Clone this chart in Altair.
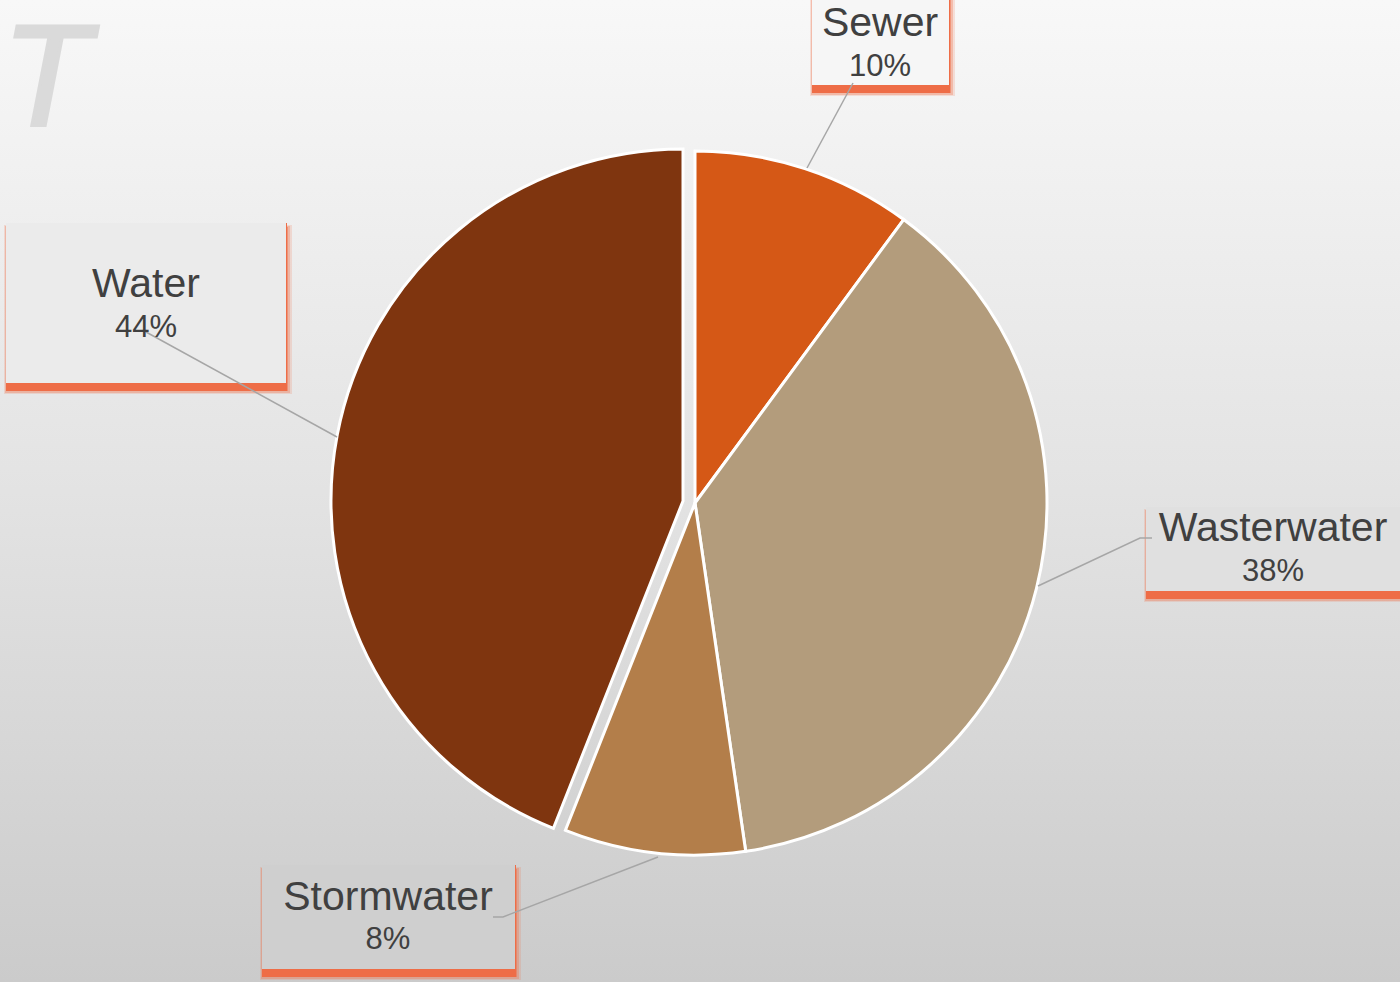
import altair as alt
import pandas as pd

# ---- data ----
categories = ["Sewer", "Wasterwater", "Stormwater", "Water"]
shares = [10.1, 37.6, 8.3, 44.0]
slice_colors = ["#D55816", "#B39C7C", "#B37E4A", "#7F350F"]

# ---- layout (pixels) ----
W, H = 1400, 982
CX, CY, R = 695, 503, 352
EXPLODE_CX, EXPLODE_CY = 683, 501  # exploded "Water" slice centre

box_x0 = [812, 1146, 262, 6]
box_x1 = [949, 1405, 515, 286]
box_y0 = [-10, 507, 865, 223]
box_y1 = [85, 591, 969, 383]
box_fill = ["#f6f6f6", "#e0e0e0", "#cfcfcf", "#ebebeb"]
text_cx = [880, 1273, 388, 146]
name_y = [36, 541, 910, 297]
pct_y = [76, 581, 949, 337]

leader_pts = {
    "Sewer": [(853, 83), (807, 168)],
    "Wasterwater": [(1038, 586), (1140, 538), (1152, 538)],
    "Stormwater": [(658, 857), (503, 917), (493, 917)],
    "Water": [(146, 332), (337, 437)],
}

pie_df = pd.DataFrame({"category": categories, "share": shares,
                       "order": list(range(len(categories)))})
lab_df = pd.DataFrame({"category": categories, "share": shares,
                       "x0": box_x0, "x1": box_x1, "y0": box_y0, "y1": box_y1,
                       "fill": box_fill,
                       "cx": text_cx, "ny": name_y, "py": pct_y})
rows = []
for k, pts in leader_pts.items():
    for i, (x, y) in enumerate(pts):
        rows.append({"category": k, "seq": i, "x": x, "y": y})
line_df = pd.DataFrame(rows)
one = pd.DataFrame({"a": [0]})

bg = alt.Chart(one).mark_rect(
    color=alt.LinearGradient(
        gradient="linear",
        stops=[alt.GradientStop(color="#f8f8f8", offset=0),
               alt.GradientStop(color="#e3e3e3", offset=0.5),
               alt.GradientStop(color="#cbcbcb", offset=1)],
        x1=0, x2=0, y1=0, y2=1)
).encode(x=alt.value(0), x2=alt.value(W), y=alt.value(0), y2=alt.value(H))

big_t = alt.Chart(one).mark_text(
    text="T", font="Liberation Sans", fontSize=144, fontStyle="italic",
    color="#dadada", stroke="#dadada", strokeWidth=3,
    align="left", baseline="alphabetic"
).encode(x=alt.value(2), y=alt.value(126))

arcs = alt.Chart(pie_df).mark_arc(
    radius=R, stroke="white", strokeWidth=3
).transform_calculate(
    px=f"datum.category == 'Water' ? {EXPLODE_CX} : {CX}",
    py=f"datum.category == 'Water' ? {EXPLODE_CY} : {CY}",
).encode(
    theta=alt.Theta("share:Q", stack=True),
    order=alt.Order("order:Q"),
    color=alt.Color("category:N", legend=None,
                    scale=alt.Scale(domain=categories, range=slice_colors)),
    x=alt.X("px:Q", scale=None),
    y=alt.Y("py:Q", scale=None),
)


def shadow(dx0, dy0, dx1, dy1, opacity):
    return alt.Chart(lab_df).mark_rect(color="#ee6d47", opacity=opacity).transform_calculate(
        sx0=f"datum.x0 + ({dx0})", sx1=f"datum.x1 + ({dx1})",
        sy0=f"datum.y0 + ({dy0})", sy1=f"datum.y1 + ({dy1})",
    ).encode(x=alt.X("sx0:Q", scale=None), x2="sx1:Q",
             y=alt.Y("sy0:Q", scale=None), y2="sy1:Q")


shadow_outer = shadow(-2, 2, 6, 11, 0.18)
shadow_mid = shadow(-1, 3, 4, 10, 0.3)
shadow_core = shadow(0, 4, 2, 8, 0.5)
bar = shadow(0, 0, 1, 8, 1.0)

box = alt.Chart(lab_df).mark_rect().encode(
    x=alt.X("x0:Q", scale=None), x2="x1:Q",
    y=alt.Y("y0:Q", scale=None), y2="y1:Q",
    color=alt.Color("fill:N", scale=None))

leaders = alt.Chart(line_df).mark_line(color="#a6a6a6", strokeWidth=1.5).encode(
    x=alt.X("x:Q", scale=None), y=alt.Y("y:Q", scale=None),
    detail="category:N", order="seq:Q")

names = alt.Chart(lab_df).mark_text(
    font="Liberation Sans", fontSize=41, color="#404040",
    align="center", baseline="alphabetic"
).encode(x=alt.X("cx:Q", scale=None), y=alt.Y("ny:Q", scale=None), text="category:N")

pcts = alt.Chart(lab_df).mark_text(
    font="Liberation Sans", fontSize=31, color="#404040",
    align="center", baseline="alphabetic"
).transform_calculate(
    pct="format(datum.share / 100, '.0%')"
).encode(x=alt.X("cx:Q", scale=None), y=alt.Y("py:Q", scale=None), text="pct:N")

chart = alt.layer(bg, big_t, arcs, shadow_outer, shadow_mid, shadow_core, bar, box,
                  leaders, names, pcts).properties(
    width=W, height=H, padding=0, autosize="none"
).configure_view(stroke=None)

chart.save("out.html", embed_options={"renderer": "svg", "actions": False})
